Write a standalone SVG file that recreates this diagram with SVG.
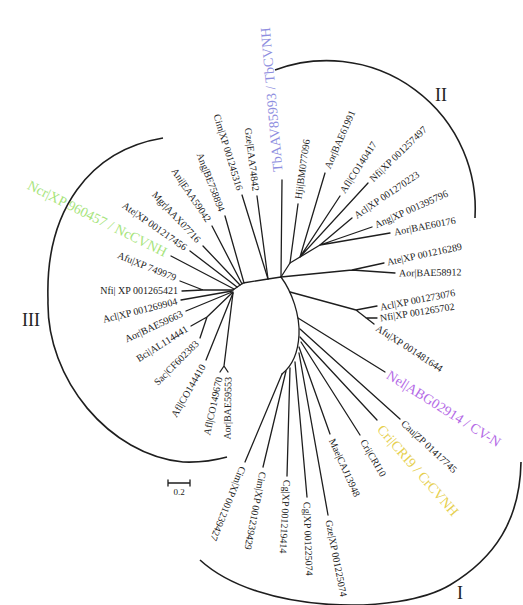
<svg xmlns="http://www.w3.org/2000/svg" width="523" height="605" viewBox="0 0 523 605">
<style>
text{font-family:"Liberation Serif","Times New Roman",serif;font-size:10px;fill:#222;dominant-baseline:central}
.e{text-anchor:end}
.s{text-anchor:start}
.big{font-size:14px}
.tb{fill:#8e8ee0}
.nc{fill:#a6e47a}
.ne{fill:#b46ae6}
.cr{fill:#e6cf4e}
.clade{font-size:18px;dominant-baseline:auto}
.br{fill:none;stroke:#1e1e1e;stroke-width:1.3;stroke-linecap:round;stroke-linejoin:round}
.arc{fill:none;stroke:#1e1e1e;stroke-width:1.6}
</style>
<rect width="523" height="605" fill="#fff"/>
<g id="connectors" class="br">
<path d="M233,290 L243,283 L268,279 L281,277"/>
<path d="M281,277 C292,292 300,315 299,335 C298,355 292,366 282,374"/>
<path d="M171,256 L234,289"/>
<path d="M190,251 L237,287"/>
<path d="M203,246 L240,285"/>
<path d="M212,226 L242,284"/>
<path d="M225,216 L244,283"/>
<path d="M242,195 L268,279"/>
<path d="M257,196 L268,279"/>
<path d="M180,281 L203,290 M182,291 L203,290 M203,290 L233,290"/>
<path d="M181,300 L232,291"/>
<path d="M186,311 L232,292"/>
<path d="M191,326 L207,317 M200,338 L207,317 M207,317 L233,292"/>
<path d="M206,360 L233,293"/>
<path d="M233,293 L224,366 M224,366 L220,372 M224,366 L228,372"/>
<path d="M282,180 L281,277"/>
<path d="M281,277 L290,263 L320,245"/>
<path d="M290,263 L298,204"/>
<path d="M300,257 L325,173 M300,257 L340,196 M300,257 L368,183"/>
<path d="M320,245 L352,218 M320,245 L372,227 M320,245 L390,233"/>
<path d="M281,277 L352,270 L395,273 M352,270 L384,263"/>
<path d="M290,292 L356,310 M356,310 L377,306 M356,310 L374,324 M366,318 L377,318"/>
<path d="M298,318 L385,372"/>
<path d="M300,329 L400,419"/>
<path d="M300,337 L377,420"/>
<path d="M301,342 L360,435"/>
<path d="M299,347 L330,434"/>
<path d="M299,353 L328,515"/>
<path d="M295,362 L307,497"/>
<path d="M290,368 L287,476"/>
<path d="M286,371 L263,467"/>
<path d="M282,374 L245,462"/>
</g>
<g id="clades">
<path class="arc" d="M275,70 A148.5,148.5 0 0 1 475,218"/>
<path class="arc" d="M163,138 C90,150 45,210 48,300 C46,380 110,455 183,462 Q205,463 227,457"/>
<path class="arc" d="M200,560 C260,615 400,615 450,585 C495,558 520,520 521,462"/>
<text class="clade" x="435" y="101">II</text>
<text class="clade" x="22" y="326">III</text>
<text class="clade" x="457" y="599">I</text>
</g>
<g id="scale">
<path class="br" d="M168,483 L190,483 M168,480 L168,486 M190,480 L190,486"/>
<text x="179" y="492" style="font-size:9px;text-anchor:middle">0.2</text>
</g>
<g id="leaf-Ncr"><text class="e big nc" transform="translate(166,253) rotate(26.5)">Ncr|XP 960457 / NcCVNH</text></g>
<g id="leaf-Ate1"><text class="e" transform="translate(186,248) rotate(35)">Ate|XP 001217456</text></g>
<g id="leaf-Mgr"><text class="e" transform="translate(199,241) rotate(47)">Mgr|AAX07716</text></g>
<g id="leaf-Ani"><text class="e" transform="translate(209,221) rotate(56)">Ani|EAA59042</text></g>
<g id="leaf-Ang1"><text class="e" transform="translate(222,211) rotate(69)">Ang|BE758894</text></g>
<g id="leaf-Cim1"><text class="e" transform="translate(240,190) rotate(73)">Cim|XP 001245316</text></g>
<g id="leaf-Gze1"><text class="e" transform="translate(256,191) rotate(83)">Gze|EAA74842</text></g>
<g id="leaf-Afu1"><text class="e" transform="translate(176,278) rotate(22)">Afu|XP 749979</text></g>
<g id="leaf-Nfi1"><text class="e" transform="translate(178,290)">Nfi| XP 001265421</text></g>
<g id="leaf-Acl1"><text class="e" transform="translate(177,301) rotate(-14)">Acl|XP 001269904</text></g>
<g id="leaf-Aor1"><text class="e" transform="translate(182,313) rotate(-25)">Aor|BAE59663</text></g>
<g id="leaf-Bci"><text class="e" transform="translate(187,328) rotate(-32)">Bci|AL114441</text></g>
<g id="leaf-Sac"><text class="e" transform="translate(197,342) rotate(-45)">Sac|CF602383</text></g>
<g id="leaf-Afl1"><text class="e" transform="translate(203,365) rotate(-60)">Afl|CO144410</text></g>
<g id="leaf-Afl2"><text class="e" transform="translate(219,377) rotate(-78)">Afl|CO149670</text></g>
<g id="leaf-Aor2"><text class="e" transform="translate(228,377) rotate(-89)">Aor|BAE59553</text></g>
<g id="leaf-Tb"><text class="s big tb" transform="translate(278,172) rotate(-95)">TbAAV85993 / TbCVNH</text></g>
<g id="leaf-Hji"><text class="s" transform="translate(298,199) rotate(-82)">Hji|BM077096</text></g>
<g id="leaf-Aor3"><text class="s" transform="translate(327,168) rotate(-66)">Aor|BAE61991</text></g>
<g id="leaf-Afl3"><text class="s" transform="translate(342,192) rotate(-57)">Afl|CO140417</text></g>
<g id="leaf-Nfi2"><text class="s" transform="translate(371,180) rotate(-44)">Nfi|XP 001257497</text></g>
<g id="leaf-Acl2"><text class="s" transform="translate(355,216) rotate(-34)">Acl|XP 001270223</text></g>
<g id="leaf-Ang2"><text class="s" transform="translate(375,225) rotate(-24)">Ang|XP 001395796</text></g>
<g id="leaf-Aor4"><text class="s" transform="translate(394,232) rotate(-11)">Aor|BAE60176</text></g>
<g id="leaf-Ate2"><text class="s" transform="translate(387,262) rotate(-12)">Ate|XP 001216289</text></g>
<g id="leaf-Aor5"><text class="s" transform="translate(399,273) rotate(-1)">Aor|BAE58912</text></g>
<g id="leaf-Acl3"><text class="s" transform="translate(380,307) rotate(-11)">Acl|XP 001273076</text></g>
<g id="leaf-Nfi3"><text class="s" transform="translate(380,318) rotate(-9)">Nfi|XP 001265702</text></g>
<g id="leaf-Afu2"><text class="s" transform="translate(377,327) rotate(33)">Afu|XP 001481644</text></g>
<g id="leaf-Nel"><text class="s big ne" transform="translate(388,374) rotate(32)">Nel|ABG02914 / CV-N</text></g>
<g id="leaf-Cau"><text class="s" transform="translate(403,422) rotate(43)">Cau|ZP 01417745</text></g>
<g id="leaf-Cri9"><text class="s big cr" transform="translate(380,427) rotate(49)">Cri|CRI9 / CrCVNH</text></g>
<g id="leaf-Cri10"><text class="s" transform="translate(363,440) rotate(60)">Cri|CRI10</text></g>
<g id="leaf-Mae"><text class="s" transform="translate(332,439) rotate(66)">Mae|CAJ13948</text></g>
<g id="leaf-Gze2"><text class="s" transform="translate(329,520) rotate(79)">Gze|XP 001225074</text></g>
<g id="leaf-Cg1"><text class="s" transform="translate(307,502) rotate(88)">Cg|XP 001225074</text></g>
<g id="leaf-Cg2"><text class="s" transform="translate(287,480) rotate(93)">Cg|XP 001219414</text></g>
<g id="leaf-Cim2"><text class="s" transform="translate(263,472) rotate(101)">Cim|XP 001239429</text></g>
<g id="leaf-Cim3"><text class="s" transform="translate(243,467) rotate(112)">Cim|XP 001239427</text></g>
</svg>
